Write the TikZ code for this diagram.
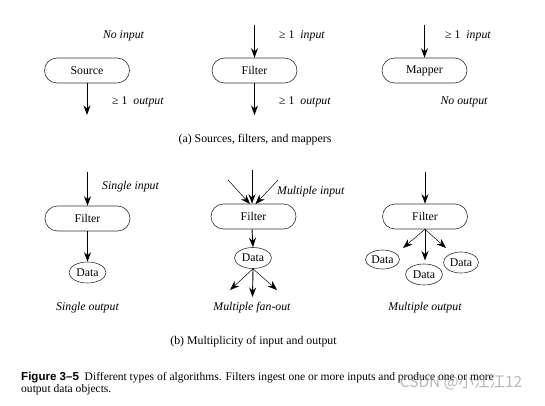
\documentclass[tikz,border=0pt]{standalone}
\usepackage{fontspec}
\setmainfont{Liberation Serif}
\newfontfamily\capsans{Liberation Sans}
\newfontfamily\cjk{Noto Sans CJK SC}
\usetikzlibrary{shapes.geometric,arrows.meta}
\begin{document}
\begin{tikzpicture}[x=1pt,y=-1pt,
  txt/.style={font=\fontsize{11.8}{14}\selectfont, inner sep=0pt},
  lab/.style={font=\fontsize{11.8}{14}\selectfont\itshape, inner sep=0pt},
  procbox/.style={draw=black!80, line width=0.6pt, rounded corners=12.5pt, minimum width=85pt, minimum height=25pt, inner sep=0pt, font=\fontsize{11.8}{14}\selectfont},
  databox/.style={draw=black!80, line width=0.6pt, ellipse, minimum width=37pt, minimum height=21pt, inner sep=0pt, font=\fontsize{11.8}{14}\selectfont},
  flow/.style={-{Stealth[length=9.5pt,width=7pt]}, line width=0.9pt},
  thinflow/.style={-{Stealth[length=9.5pt,width=7pt]}, line width=0.5pt},
  captxt/.style={font=\fontsize{11.55}{13}\selectfont, inner sep=0pt, anchor=west},
]
\useasboundingbox (0,0) rectangle (545,406);

% ---------- (a) ----------
\node[procbox] (src) at (87,70.5) {Source};
\node[procbox] (flt) at (254.5,70.5) {Filter};
\node[procbox] (map) at (424.5,70.5) {Mapper};

\coordinate (srcout) at (87,115);
\coordinate (fltin) at (254.5,25);
\coordinate (fltout) at (254.5,115);
\coordinate (mapin) at (424.5,25);

\draw[flow] (src.south) -- (srcout);
\draw[flow] (fltin) -- (flt.north);
\draw[flow] (flt.south) -- (fltout);
\draw[flow] (mapin) -- (map.north);

\node[lab] (l1) at (123.5,36) {No input};
\node[txt, anchor=west] (l2) at (112,102) {≥ 1\ \ \textit{output}};
\node[txt, anchor=west] (l3) at (279,36) {≥ 1\ \ \textit{input}};
\node[txt, anchor=west] (l4) at (279,102) {≥ 1\ \ \textit{output}};
\node[txt, anchor=west] (l5) at (445,36) {≥ 1\ \ \textit{input}};
\node[lab] (l6) at (464,102) {No output};
\node[txt] (capa) at (255,140) {(a) Sources, filters, and mappers};

% ---------- (b) ----------
\node[procbox] (f1) at (87.5,218.5) {Filter};
\node[procbox] (f2) at (253.5,216.5) {Filter};
\node[procbox] (f3) at (425,216.5) {Filter};

\node[databox] (d1) at (87.5,272.5) {Data};
\node[databox] (d2) at (253,258) {Data};
\node[databox, minimum width=34pt, minimum height=19pt] (d3a) at (382.5,259.5) {Data};
\node[databox, minimum width=37pt, minimum height=21pt] (d3b) at (424,274.5) {Data};
\node[databox, minimum width=35pt, minimum height=21pt] (d3c) at (461,262.5) {Data};

% single
\coordinate (f1in) at (87.5,172);
\draw[flow] (f1in) -- (f1.north);
\draw[flow] (f1.south) -- (d1.north);

% multiple input / fan-out
\coordinate (f2in) at (252,170);
\coordinate (f2inl) at (228,180);
\coordinate (f2inr) at (278,180);
\coordinate (f2tl) at (250,204);
\coordinate (f2tr) at (255.5,204);
\draw[flow] (f2in) -- (f2in |- f2.north);
\draw[thinflow] (f2inl) -- (f2tl);
\draw[thinflow] (f2inr) -- (f2tr);
\draw[flow] (f2in |- f2.south) -- (d2.north);
\coordinate (fo1) at (230,290);
\coordinate (fo2) at (252.5,297);
\coordinate (fo3) at (277,290);
\draw[thinflow] (d2.south) -- (fo1);
\draw[flow] (d2.south) -- (fo2);
\draw[thinflow] (d2.south) -- (fo3);

% multiple output
\coordinate (f3in) at (425,172);
\draw[flow] (f3in) -- (f3.north);
\coordinate (o3a) at (403,248);
\coordinate (o3b) at (425,260.5);
\coordinate (o3c) at (446,248);
\draw[thinflow] (f3.south) -- (o3a);
\draw[flow] (f3.south) -- (o3b);
\draw[thinflow] (f3.south) -- (o3c);

\node[lab, anchor=west] (m1) at (102,187) {Single input};
\node[lab, anchor=west] (m2) at (277,192) {Multiple input};
\node[lab] (m3) at (87.5,308) {Single output};
\node[lab] (m4) at (252,308) {Multiple fan-out};
\node[lab] (m5) at (425,308) {Multiple output};
\node[txt] (capb) at (253.5,342) {(b) Multiplicity of input and output};

% ---------- caption ----------
\node[captxt] (cap1) at (21,378) {{\capsans\bfseries Figure 3–5}\ \ Different types of algorithms. Filters ingest one or more inputs and produce one or more};
\node[captxt] (cap2) at (21,390) {output data objects.};

\node[font=\cjk\fontsize{15.5}{17}\selectfont, text=black!40, opacity=0.7, inner sep=0pt] (wm) at (461,382) {CSDN @小江江12};
\end{tikzpicture}
\end{document}
